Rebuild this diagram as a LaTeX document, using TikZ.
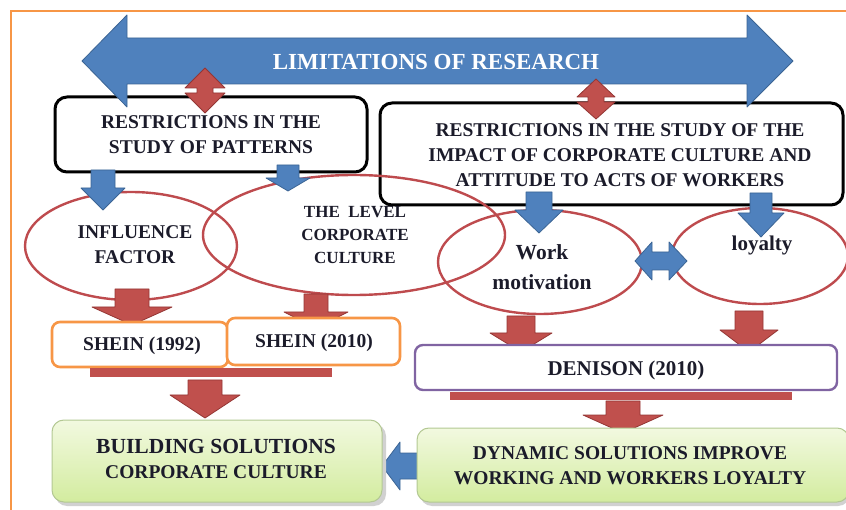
\documentclass[tikz,border=0pt]{standalone}
\usepackage{fontspec}
\setmainfont{Liberation Serif}
\usetikzlibrary{shapes.geometric}
\definecolor{bluef}{HTML}{4F81BD}
\definecolor{blued}{HTML}{3B6494}
\definecolor{redf}{HTML}{C0504D}
\definecolor{redd}{HTML}{943634}
\definecolor{ellc}{HTML}{BE4B4E}
\definecolor{orng}{HTML}{F79646}
\definecolor{purp}{HTML}{8064A2}
\definecolor{grtop}{HTML}{F2F9E0}
\definecolor{grbot}{HTML}{D3EC9F}
\definecolor{grline}{HTML}{B3C893}
\definecolor{ink}{HTML}{1B1B2A}
\newcommand\arrDown[7]{% style, x, ytop, ybase, ytip, shafthalf, headhalf
  \filldraw[#1] ({#2-#6},#3) -- ({#2+#6},#3) -- ({#2+#6},#4) -- ({#2+#7},#4)
    -- (#2,#5) -- ({#2-#7},#4) -- ({#2-#6},#4) -- cycle;}
\begin{document}
\begin{tikzpicture}[x=1pt,y=-1pt,
  bluearr/.style={fill=bluef,draw=blued,line width=0.8pt,line join=round},
  redarr/.style={fill=redf,draw=redd,line width=0.8pt,line join=round},
  blackbox/.style={draw=black,line width=3pt,rounded corners=12pt},
  ell/.style={ellipse,draw=ellc,line width=2.4pt,inner sep=0pt},
  orbox/.style={draw=orng,fill=white,line width=2.6pt,rounded corners=8pt},
  pubox/.style={draw=purp,fill=white,line width=2.4pt,rounded corners=8pt},
  grbox/.style={draw=grline,line width=1pt,rounded corners=12pt,top color=grtop,bottom color=grbot},
  txt/.style={text=ink,align=center,inner sep=0pt,font=\bfseries\fontsize{19.5}{25}\selectfont},
]
\useasboundingbox (0,0) rectangle (846,510);
% frame
\draw[orng,line width=2.6pt] (11,515) -- (11,11) -- (850,11);

% black boxes
\draw[blackbox] (55,97) rectangle (367,172);
\draw[blackbox] (380,103) rectangle (843,205);

% big double arrow
\filldraw[bluearr] (82,61) -- (127,15) -- (127,38) -- (747,38) -- (747,15) -- (793,61)
  -- (747,107) -- (747,84) -- (127,84) -- (127,107) -- cycle;
\node[txt,text=white,font=\bfseries\fontsize{23}{25}\selectfont] (lim) at (436,62) {LIMITATIONS OF RESEARCH};

% red vertical double arrows
\filldraw[redarr] (205,68) -- (225,88) -- (213,88) -- (213,93) -- (225,93) -- (205,113)
  -- (185,93) -- (197,93) -- (197,88) -- (185,88) -- cycle;
\filldraw[redarr] (596,79) -- (615,97) -- (604,97) -- (604,102) -- (615,102) -- (596,119)
  -- (577,102) -- (588,102) -- (588,97) -- (577,97) -- cycle;

% box texts
\node[txt] (rp) at (211,135) {RESTRICTIONS IN THE\\STUDY OF PATTERNS};
\node[txt] (ri) at (620,155) {RESTRICTIONS IN THE STUDY OF THE\\IMPACT OF CORPORATE CULTURE AND\\ATTITUDE TO ACTS OF WORKERS};

% ellipses
\node[ell,minimum width=212pt,minimum height=108pt] (infl) at (131,246) {};
\node[ell,minimum width=302pt,minimum height=120pt] (cult) at (354,235) {};
\node[ell,minimum width=204pt,minimum height=104pt] (work) at (540,262) {};
\node[ell,minimum width=176pt,minimum height=96pt] (loy) at (760,256) {};
\node[txt] (tinfl) at (135,245) {INFLUENCE\\FACTOR};
\node[txt,font=\bfseries\fontsize{17}{23}\selectfont] (tcult) at (355,235) {THE\ \ LEVEL\\CORPORATE\\CULTURE};
\node[txt,font=\bfseries\fontsize{21.5}{30}\selectfont] (twork) at (542,267) {Work\\motivation};
\node[txt,font=\bfseries\fontsize{21}{25}\selectfont] (tloy) at (762,245) {loyalty};

% blue down arrows
\arrDown{bluearr}{103}{170}{188}{210}{12}{22}
\arrDown{bluearr}{288}{165}{178}{191}{11}{22}
\arrDown{bluearr}{539}{192}{210}{233}{13}{24}
\arrDown{bluearr}{761}{193}{213}{237}{11}{23}

% horizontal blue double arrow
\filldraw[bluearr] (635,261) -- (652,242) -- (652,252) -- (669,252) -- (669,242) -- (687,261)
  -- (669,280) -- (669,270) -- (652,270) -- (652,280) -- cycle;

% red down arrows to references
\arrDown{redarr}{132}{289}{307}{325}{17}{40}
\arrDown{redarr}{316}{294}{312}{328}{12}{32}
\arrDown{redarr}{521}{316}{333}{352}{14}{31}
\arrDown{redarr}{749}{311}{330}{352}{14}{29}

% SHEIN boxes
\node[orbox,minimum width=176pt,minimum height=45pt] (s92) at (140,344.5) {};
\node[orbox,minimum width=173pt,minimum height=47pt] (s10) at (313.5,341.5) {};
\node[txt] (ts92) at (142,346) {SHEIN (1992)};
\node[txt] (ts10) at (314,343) {SHEIN (2010)};

% DENISON box
\node[pubox,minimum width=422pt,minimum height=45pt] (den) at (626,367.5) {};
\node[txt,font=\bfseries\fontsize{21}{25}\selectfont] (tden) at (626,370) {DENISON (2010)};

% red bars
\fill[redf] (90,368) rectangle (332,377);
\fill[redf] (450,392) rectangle (792,400);

% red arrows to solutions
\arrDown{redarr}{205}{380}{395}{418}{17}{35}
\arrDown{redarr}{623}{401}{415}{433}{17}{40}

% left blue arrow
\filldraw[bluearr] (382,466) -- (400,442) -- (400,453) -- (425,453) -- (425,479) -- (400,479)
  -- (400,490) -- cycle;

% solution boxes
\fill[black!18,rounded corners=12pt] (55,424) rectangle (386,506);
\fill[black!18,rounded corners=12pt] (420,432) rectangle (850,506);
\node[grbox,minimum width=330pt,minimum height=82pt] (build) at (217,461) {};
\node[grbox,minimum width=432pt,minimum height=74pt] (dyn) at (633,465) {};
\node[txt] (tbuild) at (216,459) {{\fontsize{21.5}{25}\selectfont BUILDING SOLUTIONS}\\CORPORATE CULTURE};
\node[txt] (tdyn) at (630,466) {DYNAMIC SOLUTIONS IMPROVE\\WORKING AND WORKERS LOYALTY};
\end{tikzpicture}
\end{document}
